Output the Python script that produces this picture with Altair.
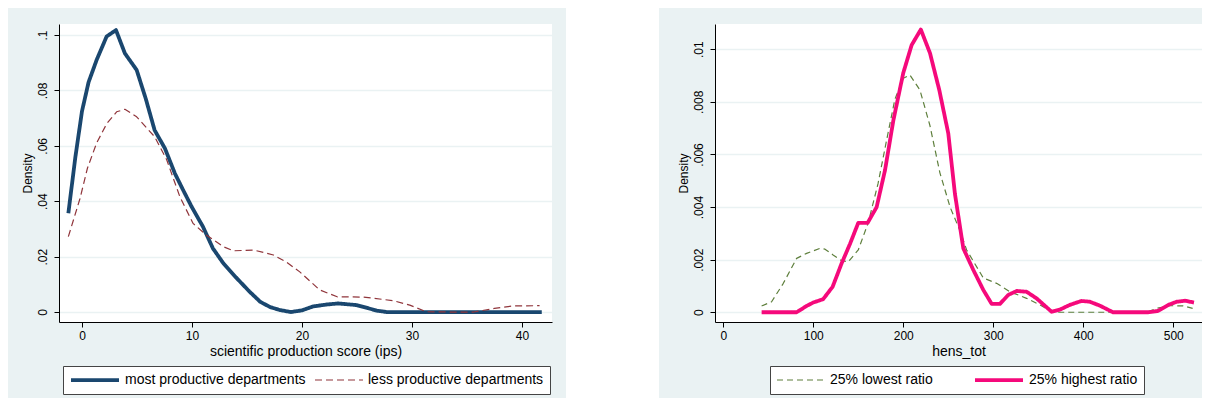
import altair as alt
import pandas as pd

# ---------------- data ----------------
mp_label = "most productive departments"
lp_label = "less productive departments"
mp_x = [-1.24, -0.6, 0.0, 0.6, 1.33, 2.24, 3.09, 3.9, 4.97, 5.8, 6.6, 7.55, 8.45, 9.2, 9.97,
        11.0, 11.9, 12.85, 14.0, 15.2, 16.2, 17.1, 18.0, 19.0, 20.0, 21.0, 22.2, 23.3, 24.97,
        26.0, 26.8, 27.7, 30, 33, 36, 39, 41.8]
mp_y = [0.0357, 0.056, 0.0725, 0.083, 0.091, 0.0995, 0.1018, 0.0934, 0.0874, 0.077, 0.0657,
        0.059, 0.050, 0.044, 0.038, 0.0308, 0.023, 0.0176, 0.0125, 0.0075, 0.0037, 0.0018,
        0.0007, 0.0, 0.0006, 0.002, 0.0027, 0.0031, 0.0025, 0.0014, 0.0005, 0.0, 0, 0, 0, 0, 0]
lp_x = [-1.24, -0.18, 0.5, 1.33, 2.25, 3.15, 3.9, 4.97, 6.6, 7.7, 8.9, 10.1, 11.3, 12.85, 13.75,
        15.6, 17.4, 18.6, 19.8, 21.6, 23.2, 25.6, 28.3, 29.8, 31.3, 33.5, 35.6, 37.5, 39.2, 41.6]
lp_y = [0.0272, 0.041, 0.052, 0.061, 0.068, 0.0723, 0.0732, 0.0705, 0.0633, 0.055, 0.0416,
        0.032, 0.0278, 0.0236, 0.0221, 0.0224, 0.0206, 0.018, 0.0145, 0.008, 0.0055, 0.0054,
        0.0041, 0.0025, 0.0001, 0.0, 0.0, 0.0013, 0.0022, 0.0023]

lo_label = "25% lowest ratio"
hi_label = "25% highest ratio"
lo_x = [42.6, 53.7, 66.7, 81.5, 92.6, 107.4, 113, 122, 131.5, 138.9, 150, 161, 172, 181.5,
        190.7, 200, 207.4, 218.5, 229.6, 240.7, 252, 263, 270.4, 289, 303.7, 318.5, 337, 351.8,
        366.7, 400, 440, 470, 481.5, 496, 511, 521.5]
lo_y = [0.00024, 0.0004, 0.0011, 0.00205, 0.00224, 0.00243, 0.0024, 0.00218, 0.00196, 0.00192,
        0.00237, 0.0034, 0.0049, 0.00655, 0.0081, 0.0089, 0.00902, 0.00845, 0.0071, 0.0053,
        0.0040, 0.0031, 0.00237, 0.0013, 0.0011, 0.00078, 0.00053, 0.00028, 0.0, 0.0, 0.0, 0.0,
        0.00015, 0.00025, 0.00024, 0.00015]
hi_x = [42.6, 81.5, 92.6, 100, 111, 121.5, 131.5, 140.8, 150, 160.4, 170.4, 179.7, 189, 200,
        209.3, 219.5, 229.7, 240, 250, 257.4, 266.7, 277.8, 288.9, 298.2, 307.4, 316.7, 326,
        337, 348, 364.8, 374, 385, 398, 407.4, 418.5, 433, 472, 483, 494.4, 503.7, 513, 523]
hi_y = [0.0, 0.0, 0.00024, 0.00037, 0.0005, 0.00097, 0.00186, 0.0026, 0.0034, 0.0034, 0.0040,
        0.0054, 0.0073, 0.0091, 0.01016, 0.01075, 0.00985, 0.00845, 0.0068, 0.0045, 0.00243,
        0.00161, 0.00085, 0.00032, 0.00032, 0.00066, 0.00081, 0.00078, 0.00053, 0.00002, 0.0001,
        0.00028, 0.00043, 0.0004, 0.00025, 0.0, 0.0, 0.00005, 0.00028, 0.0004, 0.00044, 0.00037]

left_xticks = [0, 10, 20, 30, 40]
left_yticks = [0, 0.02, 0.04, 0.06, 0.08, 0.1]
right_xticks = [0, 100, 200, 300, 400, 500]
right_yticks = [0, 0.002, 0.004, 0.006, 0.008, 0.01]

# ---------------- styling ----------------
BG = "#EAF2F3"
FONT = "Liberation Sans"
NAVY, MAROON, GREEN, PINK = "#1A476F", "#90353B", "#5E7F3C", "#F5097B"
LABEL_EXPR = "datum.value == 0 ? '0' : slice(format(datum.value, '~g'), 1)"
# legend sample: a horizontal segment; scale = sqrt(size)/2 = 6 -> 48 px long
LEG_SYMBOL = "M-1,0L7,0"

one = pd.DataFrame({"a": [0]})


def deco(x, x2, y, y2, color):
    return alt.Chart(one).mark_rect(color=color, strokeWidth=0).encode(
        x=alt.value(x), x2=alt.value(x2), y=alt.value(y), y2=alt.value(y2))


def x_axis(values, title):
    return alt.Axis(values=values, title=title, grid=False, domainColor="black", domainWidth=1,
                    tickColor="black", tickSize=5, labelFont=FONT, labelFontSize=12,
                    labelColor="black", labelPadding=3, titleFont=FONT, titleFontSize=14,
                    titleFontWeight="normal", titleColor="black", titlePadding=3)


def y_axis(values):
    return alt.Axis(values=values, title="Density", grid=True, gridColor=BG, gridWidth=1.5,
                    domainColor="black", domainWidth=1, tickColor="black", tickSize=5,
                    labelFont=FONT, labelFontSize=12, labelColor="black", labelAngle=270,
                    labelAlign="center", labelBaseline="bottom", labelPadding=5,
                    labelExpr=LABEL_EXPR, titleFont=FONT, titleFontSize=12,
                    titleFontWeight="normal", titleColor="black", titlePadding=2)


def legend(x, y, colpad):
    return alt.Legend(title=None, orient="none", legendX=x, legendY=y, direction="horizontal",
                      symbolType=LEG_SYMBOL, symbolSize=144, labelFont=FONT, labelFontSize=14,
                      labelColor="black", labelLimit=400, fillColor="white", strokeColor="#444",
                      padding=6, columnPadding=colpad, labelOffset=40)


def panel(df, dom_x, dom_y, xt, yt, xtitle, order, colors, dashes, widths, leg):
    return alt.Chart(df).mark_line(strokeCap="butt", strokeJoin="round").encode(
        x=alt.X("x:Q", scale=alt.Scale(domain=dom_x, nice=False, zero=False),
                axis=x_axis(xt, xtitle)),
        y=alt.Y("y:Q", scale=alt.Scale(domain=dom_y, nice=False, zero=False),
                axis=y_axis(yt)),
        color=alt.Color("s:N", scale=alt.Scale(domain=order, range=colors), legend=leg),
        strokeDash=alt.StrokeDash("s:N", scale=alt.Scale(domain=order, range=dashes), legend=leg),
        strokeWidth=alt.StrokeWidth("s:N", scale=alt.Scale(type="ordinal", domain=order, range=widths),
                                    legend=leg),
        order=alt.Order("o:Q"),
    )


left_df = pd.concat([
    pd.DataFrame({"x": mp_x, "y": mp_y, "s": mp_label, "o": range(len(mp_x))}),
    pd.DataFrame({"x": lp_x, "y": lp_y, "s": lp_label, "o": range(len(lp_x))}),
])
right_df = pd.concat([
    pd.DataFrame({"x": lo_x, "y": lo_y, "s": lo_label, "o": range(len(lo_x))}),
    pd.DataFrame({"x": hi_x, "y": hi_y, "s": hi_label, "o": range(len(hi_x))}),
])

left_lines = panel(left_df, [-2.09, 42.73], [-0.0036, 0.104], left_xticks, left_yticks,
                   "scientific production score (ips)", [mp_label, lp_label],
                   [NAVY, MAROON], [[1, 0], [7, 4]], [3.8, 1.2], legend(4, 342, 6))
right_lines = panel(right_df, [-9.2, 531.9], [-0.00037, 0.01096], right_xticks, right_yticks,
                    "hens_tot", [lo_label, hi_label],
                    [GREEN, PINK], [[6, 4], [1, 0]], [1.2, 3.8], legend(55, 342, 34))

left = alt.layer(
    deco(-51, -50, -16, -15, BG),
    deco(507, 600, -16, 374, "white"),
    left_lines,
).properties(width=493, height=298)

right = alt.layer(
    deco(-56, -55, -16, -15, BG),
    right_lines,
).properties(width=487, height=298)

chart = alt.hconcat(left, right, spacing=0).resolve_scale(
    x="independent", y="independent", color="independent",
    strokeDash="independent", strokeWidth="independent",
).resolve_legend(
    color="independent", strokeDash="independent", strokeWidth="independent",
).properties(background=BG, padding=0).configure_view(fill="white", stroke=None)

chart.save("out.html", embed_options={"renderer": "svg", "actions": False})
